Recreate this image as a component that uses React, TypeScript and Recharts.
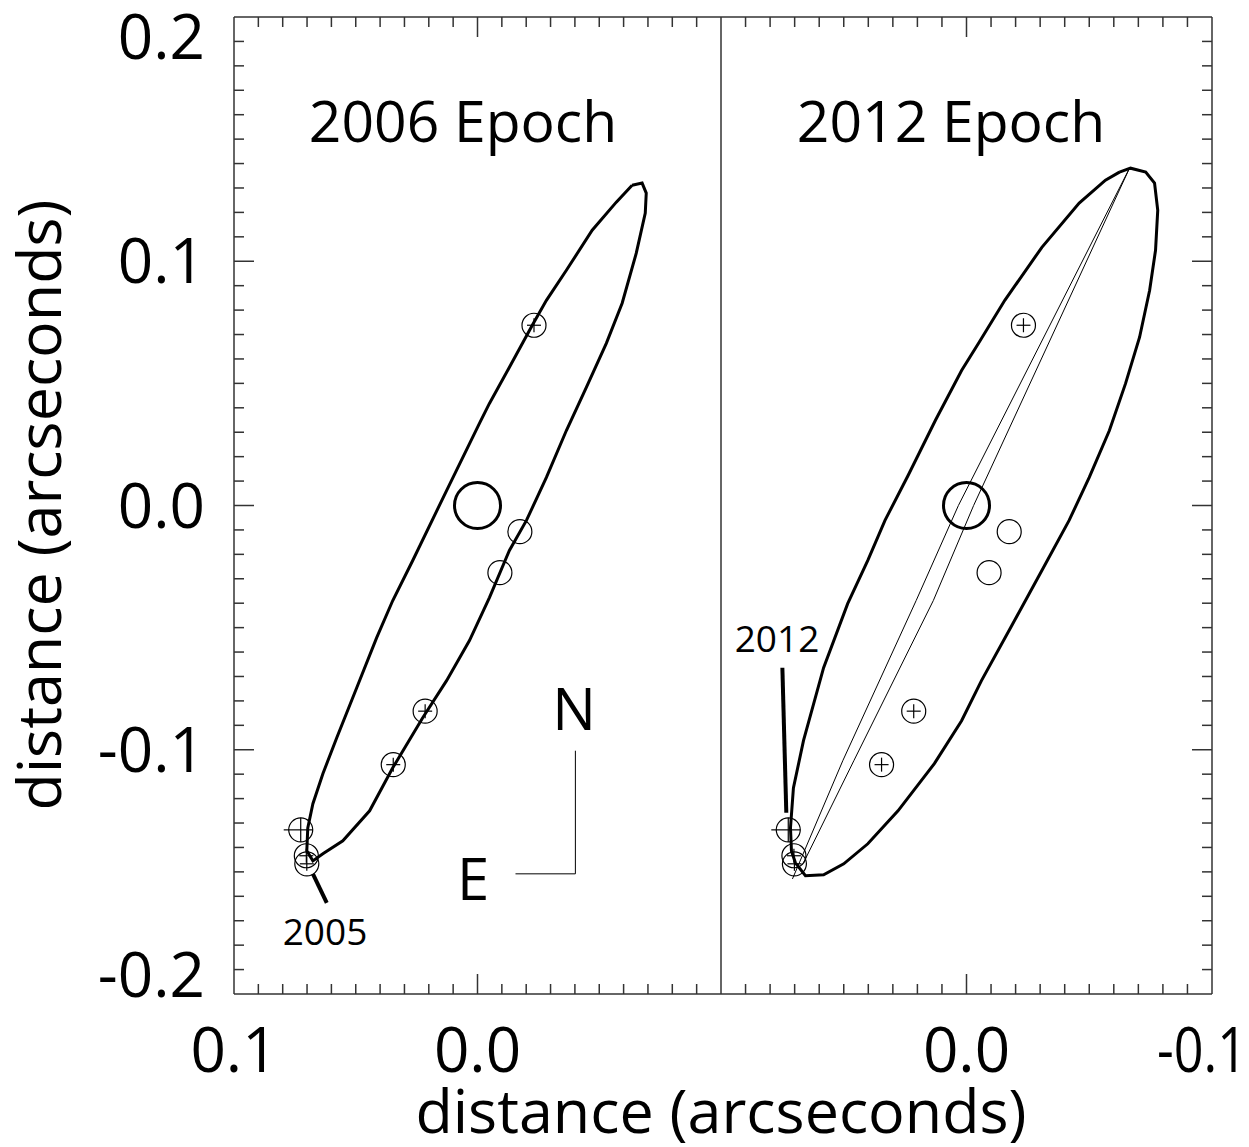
import React from 'react';
import { ScatterChart, Scatter, XAxis, YAxis, ReferenceLine } from 'recharts';

// ---------- data (arcseconds) ----------
const orbit2006 = [
  { x: -0.0635, y: 0.1311 }, { x: -0.0676, y: 0.132 }, { x: -0.0693, y: 0.1279 }, { x: -0.0689, y: 0.1197 },
  { x: -0.0652, y: 0.1033 }, { x: -0.0594, y: 0.0828 }, { x: -0.0529, y: 0.0664 }, { x: -0.0447, y: 0.0484 },
  { x: -0.0365, y: 0.0307 }, { x: -0.0283, y: 0.0115 }, { x: -0.0201, y: -0.0061 }, { x: -0.0131, y: -0.0184 },
  { x: -0.0049, y: -0.0377 }, { x: 0.0033, y: -0.0553 }, { x: 0.0127, y: -0.0717 }, { x: 0.0225, y: -0.0869 },
  { x: 0.0348, y: -0.1074 }, { x: 0.0443, y: -0.125 }, { x: 0.0553, y: -0.1373 }, { x: 0.0635, y: -0.1426 },
  { x: 0.0676, y: -0.1455 }, { x: 0.0701, y: -0.1414 }, { x: 0.0697, y: -0.132 }, { x: 0.0676, y: -0.1221 },
  { x: 0.0635, y: -0.1098 }, { x: 0.0578, y: -0.0951 }, { x: 0.0496, y: -0.0746 }, { x: 0.0414, y: -0.0541 },
  { x: 0.0348, y: -0.0389 }, { x: 0.0266, y: -0.0225 }, { x: 0.0127, y: 0.0061 }, { x: -0.0008, y: 0.0336 },
  { x: -0.0049, y: 0.0418 }, { x: -0.0131, y: 0.0566 }, { x: -0.0225, y: 0.0738 }, { x: -0.0283, y: 0.084 },
  { x: -0.0365, y: 0.0963 }, { x: -0.0471, y: 0.1127 }, { x: -0.057, y: 0.1242 }, { x: -0.0635, y: 0.1311 },
];

const orbit2012 = [
  { x: -0.0623, y: 0.1365 }, { x: -0.0668, y: 0.1381 }, { x: -0.073, y: 0.1365 }, { x: -0.0766, y: 0.132 },
  { x: -0.0779, y: 0.1209 }, { x: -0.077, y: 0.1045 }, { x: -0.0746, y: 0.0881 }, { x: -0.0705, y: 0.0689 },
  { x: -0.0648, y: 0.05 }, { x: -0.0582, y: 0.0307 }, { x: -0.05, y: 0.0115 }, { x: -0.0418, y: -0.0061 },
  { x: -0.0307, y: -0.0266 }, { x: -0.0184, y: -0.0492 }, { x: -0.0061, y: -0.0717 }, { x: 0.002, y: -0.0881 },
  { x: 0.0131, y: -0.1057 }, { x: 0.0279, y: -0.125 }, { x: 0.0402, y: -0.1385 }, { x: 0.05, y: -0.1467 },
  { x: 0.0582, y: -0.1512 }, { x: 0.0656, y: -0.1516 }, { x: 0.0697, y: -0.1463 }, { x: 0.0713, y: -0.1414 },
  { x: 0.0717, y: -0.132 }, { x: 0.0705, y: -0.1156 }, { x: 0.0664, y: -0.0963 }, { x: 0.0582, y: -0.0664 },
  { x: 0.0484, y: -0.0402 }, { x: 0.0402, y: -0.0225 }, { x: 0.0332, y: -0.0061 }, { x: 0.0238, y: 0.0123 },
  { x: 0.0127, y: 0.0348 }, { x: 0.002, y: 0.0553 }, { x: -0.0049, y: 0.0664 }, { x: -0.0156, y: 0.084 },
  { x: -0.0307, y: 0.1057 }, { x: -0.0459, y: 0.1238 }, { x: -0.0566, y: 0.1332 }, { x: -0.0623, y: 0.1365 },
];

const thinLineA2012 = [
  { x: -0.0664, y: 0.1381 }, { x: 0.0033, y: 0.0 }, { x: 0.0205, y: -0.0389 }, { x: 0.0504, y: -0.1045 }, { x: 0.0709, y: -0.1529 },
];
const thinLineB2012 = [
  { x: -0.0664, y: 0.1381 }, { x: -0.0029, y: 0.0 }, { x: 0.0135, y: -0.0389 }, { x: 0.0459, y: -0.1045 }, { x: 0.0664, y: -0.1463 },
];

const starPos = [{ x: 0, y: 0 }];
const obsPlus = [
  { x: -0.0232, y: 0.0738 }, { x: 0.0215, y: -0.0842 }, { x: 0.0346, y: -0.1061 },
  { x: 0.0703, y: -0.1434 }, { x: 0.0701, y: -0.1467 },
];
const obsEmpty = [
  { x: -0.0174, y: -0.0107 }, { x: -0.0092, y: -0.0275 },
];
const obsCross = [{ x: 0.0726, y: -0.1328 }];

// annotation segments (data coordinates)
const compassVertical = [{ x: -0.0402, y: -0.1004 }, { x: -0.0402, y: -0.1508 }];
const compassHorizontal = [{ x: -0.0156, y: -0.1508 }, { x: -0.0402, y: -0.1508 }];
const leader2005 = [{ x: 0.0676, y: -0.1508 }, { x: 0.0619, y: -0.1627 }];
const leader2012 = [{ x: 0.075, y: -0.0664 }, { x: 0.0734, y: -0.1258 }];

// axes
const xDomain = [-0.1, 0.1];
const yDomain = [-0.2, 0.2];
const xLabelsLeft = [0.1, 0.0];
const xLabelsRight = [0.0, -0.1];
const yLabels = [0.2, 0.1, 0.0, -0.1, -0.2];
const xTicks = Array.from({ length: 21 }, (_, i) => Math.round((-0.1 + i * 0.01) * 1000) / 1000);
const yTicks = Array.from({ length: 41 }, (_, i) => Math.round((-0.2 + i * 0.01) * 1000) / 1000);

// ---------- styles ----------
const FONT = "'Open Sans', 'Noto Sans', sans-serif";
const FRAME = '#333';
const near = (a: number, b: number) => Math.abs(a - b) < 1e-6;
const isMajor = (v: number) => Math.abs(Math.round(v * 100)) % 10 === 0;
const fmt = (v: number) => (near(v, 0) ? '0.0' : v.toFixed(1));

function makeXTick(labels: number[], side: 'top' | 'bottom') {
  return (props: any) => {
    const { x, y, payload } = props;
    const v = payload.value;
    const edge = near(Math.abs(v), 0.1);
    const len = near(v, 0) ? 20 : 10;
    const dir = side === 'bottom' ? -1 : 1;
    const show = side === 'bottom' && labels.some((l) => near(l, v));
    const rightEdgeLabel = show && near(v, -0.1);
    return (
      <g>
        {!edge && <line x1={x} x2={x} y1={y} y2={y + dir * len} stroke={FRAME} strokeWidth={1.5} />}
        {show && !rightEdgeLabel && (
          <text x={x} y={y + 78} textAnchor="middle" fontSize={62} fontFamily={FONT} fill="#000">
            {fmt(v)}
          </text>
        )}
        {rightEdgeLabel && (
          <text x={x + 35} y={y + 78} textAnchor="end" fontSize={62} fontFamily={FONT} fill="#000"
            textLength={90} lengthAdjust="spacingAndGlyphs">
            {fmt(v)}
          </text>
        )}
      </g>
    );
  };
}

function makeYTick(labels: number[], side: 'left' | 'right') {
  return (props: any) => {
    const { x, y, payload } = props;
    const v = payload.value;
    const edge = near(Math.abs(v), 0.2);
    const len = isMajor(v) ? 20 : 10;
    const dir = side === 'left' ? 1 : -1;
    const show = side === 'left' && labels.some((l) => near(l, v));
    const shift = near(v, 0.2) ? 20 : near(v, -0.2) ? -19 : 0;
    return (
      <g>
        {!edge && <line x1={x} x2={x + dir * len} y1={y} y2={y} stroke={FRAME} strokeWidth={1.5} />}
        {show && (
          <text x={x - 29} y={y + 22 + shift} textAnchor="end" fontSize={62} fontFamily={FONT} fill="#000">
            {fmt(v)}
          </text>
        )}
      </g>
    );
  };
}

const NoShape = () => <g />;

const PlusMarker = (props: any) => {
  const { cx, cy } = props;
  return (
    <g>
      <circle cx={cx} cy={cy} r={12} fill="none" stroke="#000" strokeWidth={1.2} />
      <line x1={cx - 7} x2={cx + 7} y1={cy} y2={cy} stroke="#000" strokeWidth={1.2} />
      <line x1={cx} x2={cx} y1={cy - 7} y2={cy + 7} stroke="#000" strokeWidth={1.2} />
    </g>
  );
};
const EmptyMarker = (props: any) => {
  const { cx, cy } = props;
  return <circle cx={cx} cy={cy} r={12} fill="none" stroke="#000" strokeWidth={1.2} />;
};
const CrossMarker = (props: any) => {
  const { cx, cy } = props;
  return (
    <g>
      <circle cx={cx} cy={cy} r={12} fill="none" stroke="#000" strokeWidth={1.2} />
      <line x1={cx - 17} x2={cx + 12} y1={cy} y2={cy} stroke="#000" strokeWidth={1.2} />
      <line x1={cx} x2={cx} y1={cy - 12} y2={cy + 12} stroke="#000" strokeWidth={1.2} />
    </g>
  );
};
const StarMarker = (props: any) => {
  const { cx, cy } = props;
  return <circle cx={cx} cy={cy} r={23} fill="none" stroke="#000" strokeWidth={3} />;
};

const seg = (pts: { x: number; y: number }[]) => [pts[0], pts[1]] as any;

function axes(labels: number[], leftAxis: boolean) {
  return [
    <XAxis
      key="xb" xAxisId="b" type="number" dataKey="x" domain={xDomain} reversed ticks={xTicks} interval={0}
      orientation="bottom" height={153} tick={makeXTick(labels, 'bottom')} tickLine={false} tickSize={0} tickMargin={0}
      axisLine={{ stroke: FRAME, strokeWidth: 1.5 }} allowDataOverflow
    />,
    <XAxis
      key="xt" xAxisId="t" type="number" dataKey="x" domain={xDomain} reversed ticks={xTicks} interval={0}
      orientation="top" height={17} tick={makeXTick(labels, 'top')} tickLine={false} tickSize={0} tickMargin={0}
      axisLine={{ stroke: FRAME, strokeWidth: 1.5 }} allowDataOverflow
    />,
    leftAxis ? (
      <YAxis
        key="yl" yAxisId="l" type="number" dataKey="y" domain={yDomain} ticks={yTicks} interval={0}
        orientation="left" width={234} tick={makeYTick(yLabels, 'left')} tickLine={false} tickSize={0} tickMargin={0}
        axisLine={{ stroke: FRAME, strokeWidth: 1.5 }} allowDataOverflow
      />
    ) : (
      <YAxis
        key="yl" yAxisId="l" type="number" dataKey="y" domain={yDomain} ticks={yTicks} interval={0}
        orientation="right" width={37} tick={makeYTick(yLabels, 'right')} tickLine={false} tickSize={0} tickMargin={0}
        axisLine={{ stroke: FRAME, strokeWidth: 1.5 }} allowDataOverflow
      />
    ),
  ];
}

function markers() {
  return [
    <Scatter key="star" xAxisId="b" yAxisId="l" data={starPos} shape={StarMarker} isAnimationActive={false} />,
    <Scatter key="plus" xAxisId="b" yAxisId="l" data={obsPlus} shape={PlusMarker} isAnimationActive={false} />,
    <Scatter key="empty" xAxisId="b" yAxisId="l" data={obsEmpty} shape={EmptyMarker} isAnimationActive={false} />,
    <Scatter key="cross" xAxisId="b" yAxisId="l" data={obsCross} shape={CrossMarker} isAnimationActive={false} />,
  ];
}

export default function App() {
  const H = 1147;
  return (
    <div style={{ position: 'absolute', left: 0, top: 0, width: 1249, height: H, background: '#fff' }}>
      <div style={{ position: 'absolute', left: 0, top: 0 }}>
        <ScatterChart width={731} height={H} margin={{ top: 0, right: 0, bottom: 0, left: 0 }}>
          {axes(xLabelsLeft, true)}
          <YAxis yAxisId="r" type="number" domain={yDomain} orientation="right" width={10} tick={false} tickLine={false}
            axisLine={{ stroke: FRAME, strokeWidth: 1.5 }} allowDataOverflow />
          <Scatter xAxisId="b" yAxisId="l" data={orbit2006} line={{ stroke: '#000', strokeWidth: 3 }} lineJointType="linear"
            shape={NoShape} isAnimationActive={false} />
          {markers()}
          <ReferenceLine xAxisId="b" yAxisId="l" segment={seg(compassVertical)} stroke="#000" strokeWidth={1} />
          <ReferenceLine xAxisId="b" yAxisId="l" segment={seg(compassHorizontal)} stroke="#000" strokeWidth={1} />
          <ReferenceLine xAxisId="b" yAxisId="l" segment={seg(leader2005)} stroke="#000" strokeWidth={4} />
        </ScatterChart>
      </div>
      <div style={{ position: 'absolute', left: 711, top: 0 }}>
        <ScatterChart width={538} height={H} margin={{ top: 0, right: 0, bottom: 0, left: 10 }}>
          {axes(xLabelsRight, false)}
          <Scatter xAxisId="b" yAxisId="l" data={thinLineA2012} line={{ stroke: '#000', strokeWidth: 1 }} lineJointType="linear"
            shape={NoShape} isAnimationActive={false} />
          <Scatter xAxisId="b" yAxisId="l" data={thinLineB2012} line={{ stroke: '#000', strokeWidth: 1 }} lineJointType="linear"
            shape={NoShape} isAnimationActive={false} />
          <Scatter xAxisId="b" yAxisId="l" data={orbit2012} line={{ stroke: '#000', strokeWidth: 3 }} lineJointType="linear"
            shape={NoShape} isAnimationActive={false} />
          {markers()}
          <ReferenceLine xAxisId="b" yAxisId="l" segment={seg(leader2012)} stroke="#000" strokeWidth={4} />
        </ScatterChart>
      </div>
      <svg width={1249} height={H} style={{ position: 'absolute', left: 0, top: 0, pointerEvents: 'none' }}>
        <g fontFamily={FONT} fill="#000">
          <text x={463} y={142} textAnchor="middle" fontSize={57}>2006 Epoch</text>
          <text x={951} y={142} textAnchor="middle" fontSize={57}>2012 Epoch</text>
          <text x={574} y={730} textAnchor="middle" fontSize={58}>N</text>
          <text x={473} y={900} textAnchor="middle" fontSize={58}>E</text>
          <text x={325} y={945} textAnchor="middle" fontSize={37}>2005</text>
          <text x={777} y={652} textAnchor="middle" fontSize={37}>2012</text>
          <text x={721} y={1133} textAnchor="middle" fontSize={61}>distance (arcseconds)</text>
          <text transform="translate(61,505) rotate(-90)" textAnchor="middle" fontSize={61}>distance (arcseconds)</text>
        </g>
      </svg>
    </div>
  );
}
